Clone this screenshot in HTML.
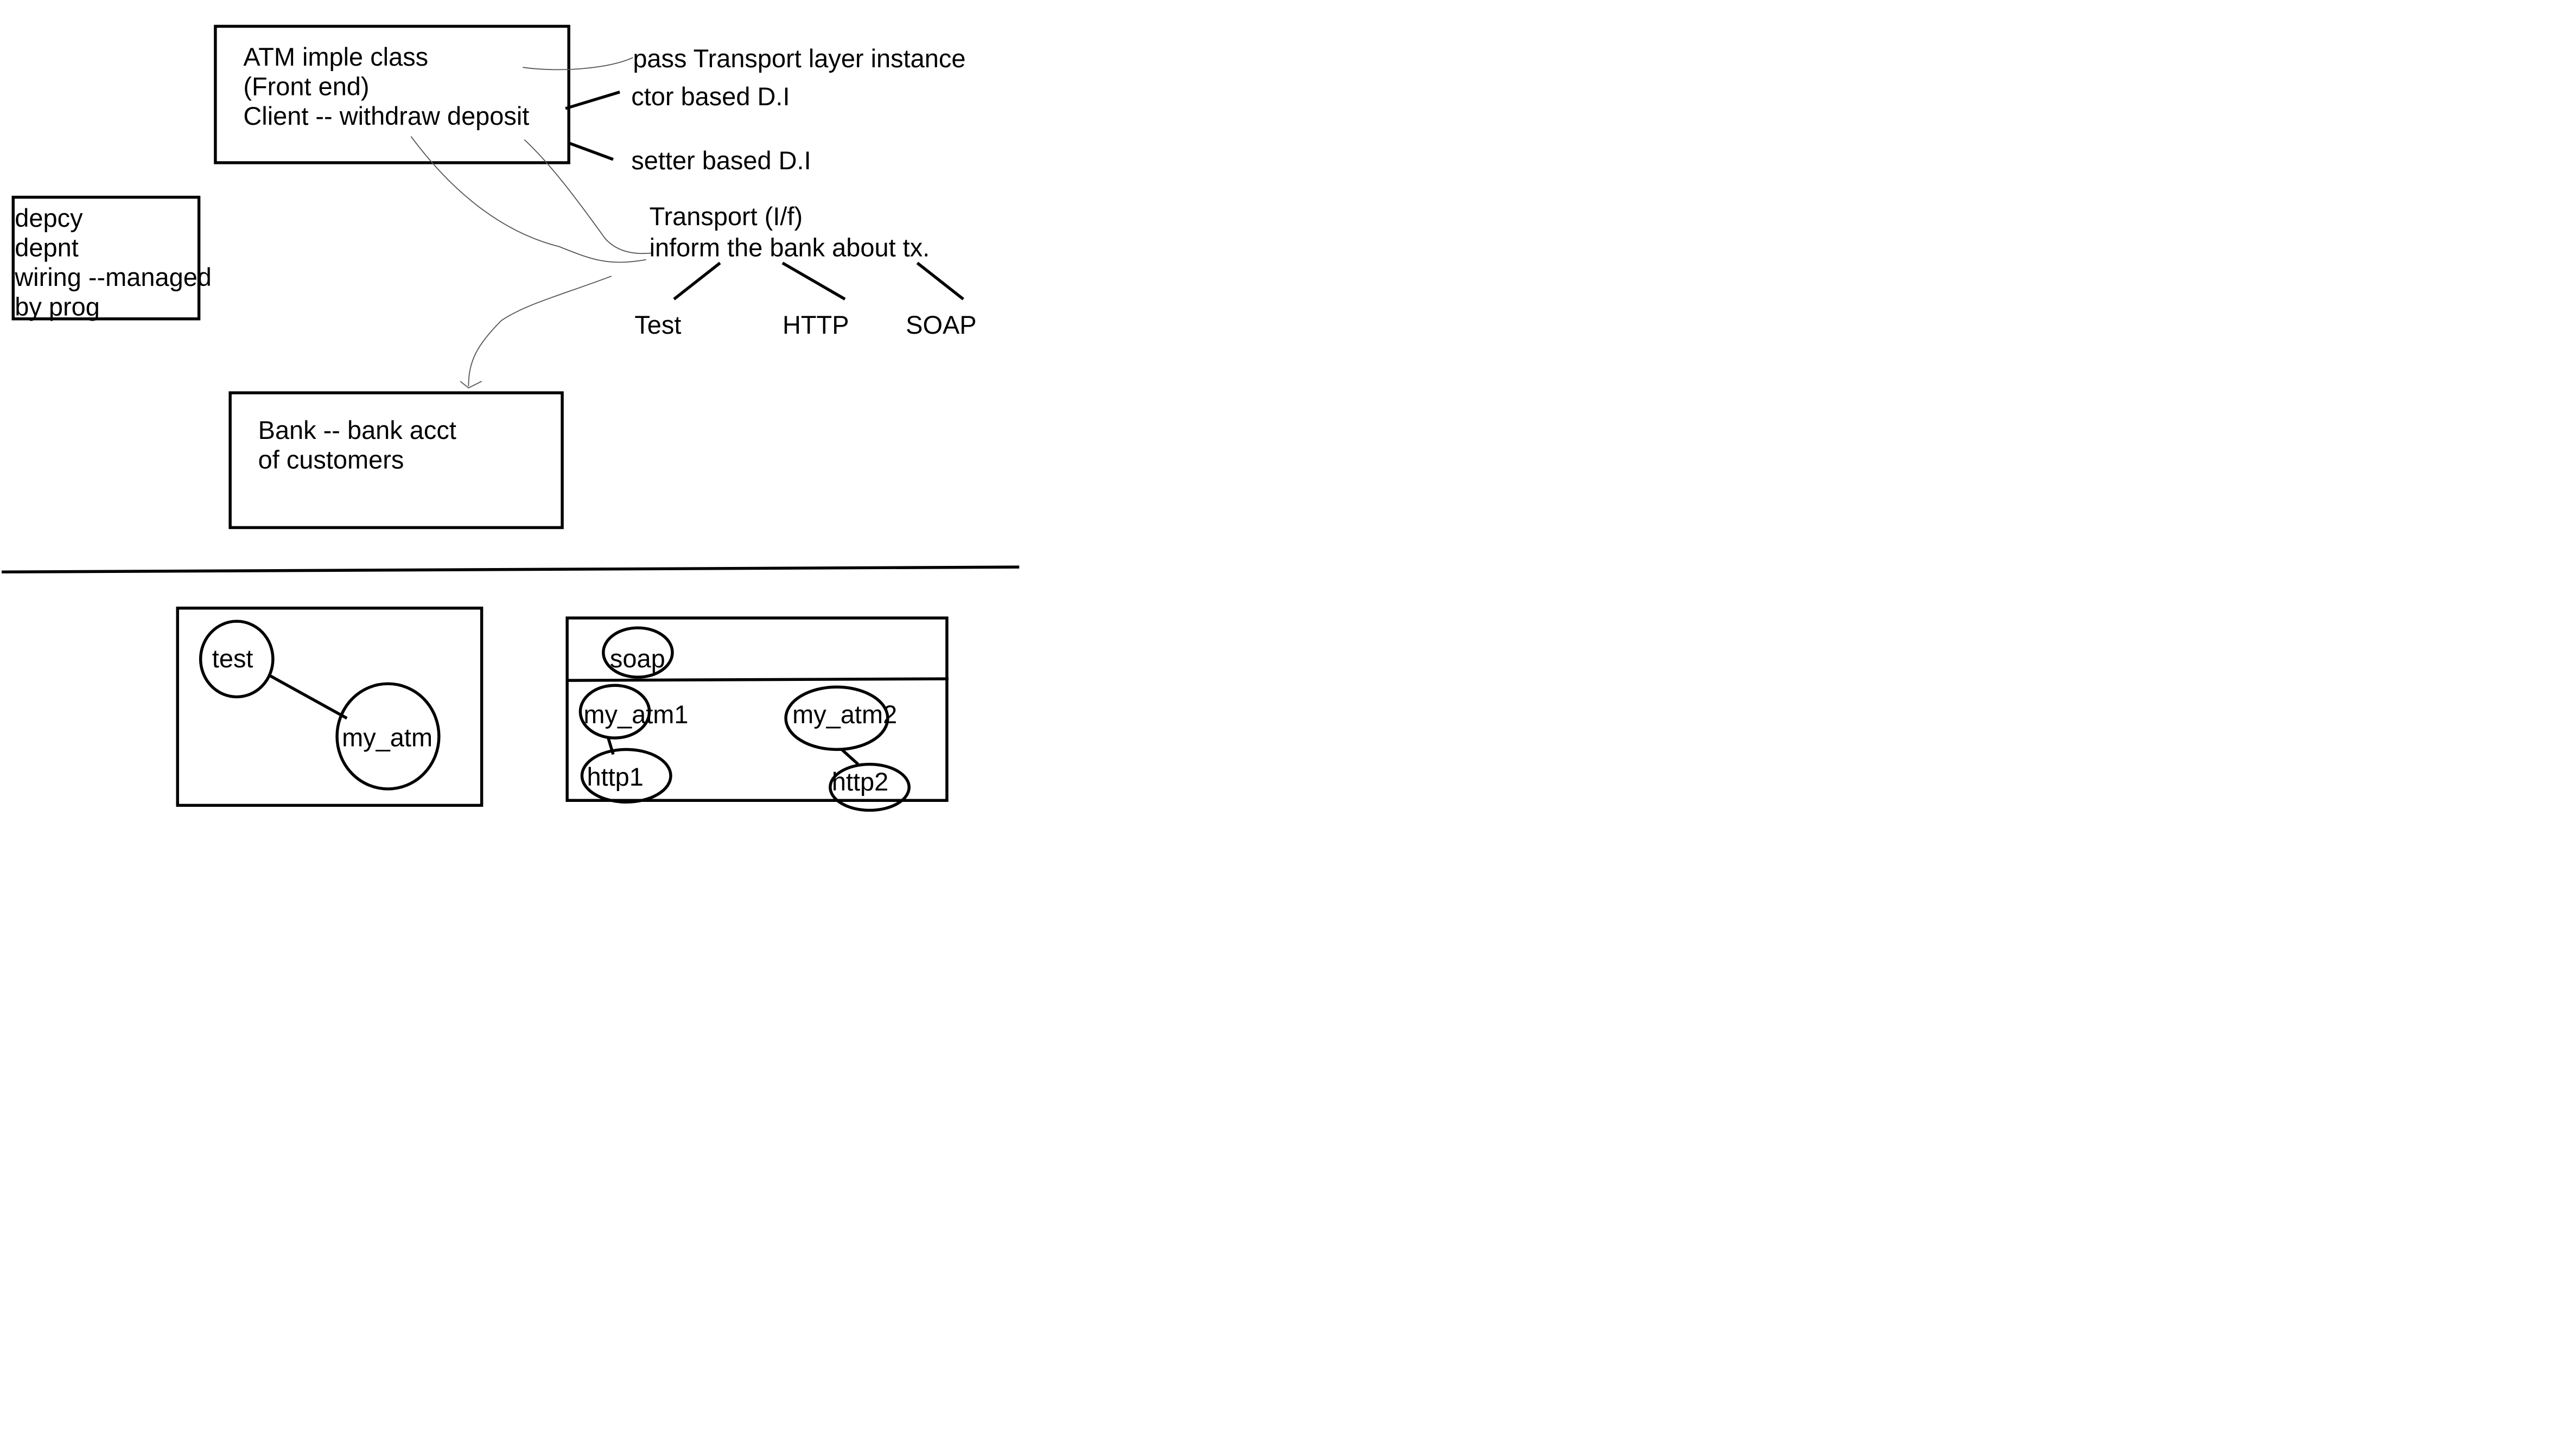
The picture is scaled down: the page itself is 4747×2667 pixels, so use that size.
<!DOCTYPE html>
<html><head><meta charset="utf-8"><style>
html,body{margin:0;padding:0;background:#fff;}
svg{display:block;}
text{font-family:"Liberation Sans",Arial,sans-serif;font-size:15.5px;fill:#000;}
</style></head><body>
<svg width="4747" height="2667" viewBox="0 0 1567 880.4" xmlns="http://www.w3.org/2000/svg">
<rect width="1567" height="880.4" fill="#fff"/>
<g fill="none" stroke="#000" stroke-width="1.8">
<rect x="131" y="16" width="215" height="83"/>
<rect x="8" y="120" width="113" height="74"/>
<rect x="140" y="239" width="202" height="82"/>
<path d="M1 348 L620 345"/>
<rect x="108" y="370" width="185" height="120"/>
<rect x="345" y="376" width="231" height="111"/>
<path d="M345 414 L577 413"/>
<path d="M344 66 L377 56"/>
<path d="M346 87 L373 97"/>
<path d="M410 182 L438 160"/>
<path d="M476 160 L514 182"/>
<path d="M558 160 L586 182"/>
<ellipse cx="144" cy="401" rx="22" ry="23"/>
<ellipse cx="236" cy="448" rx="31" ry="32"/>
<path d="M164 411 L211 437"/>
<ellipse cx="388" cy="397" rx="21" ry="15"/>
<ellipse cx="374" cy="433" rx="21" ry="16"/>
<ellipse cx="381" cy="472" rx="27" ry="16"/>
<path d="M370 449 L373 459"/>
<ellipse cx="509" cy="437" rx="31" ry="19"/>
<ellipse cx="529" cy="479" rx="24" ry="14"/>
<path d="M512 456 L522 465"/>
</g>
<g fill="none" stroke="#555" stroke-width="0.6">
<path d="M318 41 C340 44 370 42 385 35"/>
<path d="M250 83 C270 110 300 140 340 150 C360 158 370 162 393 158"/>
<path d="M319 85 C335 100 350 120 368 145 C375 153 385 155 396 154"/>
<path d="M372 168 C340 180 320 185 305 195 C290 210 285 220 285 235 M280 232 L285 236 L293 232"/>
</g>
<text x="148" y="40">ATM imple class</text>
<text x="148" y="58">(Front end)</text>
<text x="148" y="76">Client -- withdraw deposit</text>
<text x="385" y="41">pass Transport layer instance</text>
<text x="384" y="64">ctor based D.I</text>
<text x="384" y="103">setter based D.I</text>
<text x="395" y="137">Transport (I/f)</text>
<text x="395" y="156">inform the bank about tx.</text>
<text x="386" y="203">Test</text>
<text x="476" y="203">HTTP</text>
<text x="551" y="203">SOAP</text>
<text x="9" y="138">depcy</text>
<text x="9" y="156">depnt</text>
<text x="9" y="174">wiring --managed</text>
<text x="9" y="192">by prog</text>
<text x="157" y="267">Bank -- bank acct</text>
<text x="157" y="285">of customers</text>
<text x="129" y="406">test</text>
<text x="208" y="454">my_atm</text>
<text x="371" y="406">soap</text>
<text x="355" y="440">my_atm1</text>
<text x="482" y="440">my_atm2</text>
<text x="357" y="478">http1</text>
<text x="506" y="481">http2</text>
</svg>
</body></html>
